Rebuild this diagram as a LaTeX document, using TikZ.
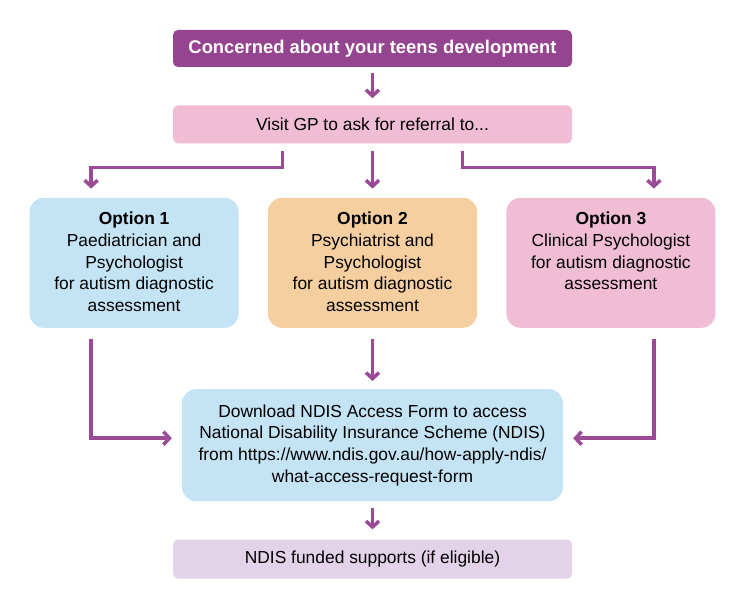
\documentclass[tikz,border=0pt]{standalone}
\usepackage{fontspec}
\setmainfont{Liberation Sans}
\usetikzlibrary{arrows.meta,positioning}
\definecolor{plum}{HTML}{95448F}
\definecolor{arrowc}{HTML}{9B4A96}
\definecolor{gppink}{HTML}{F0BDD5}
\definecolor{optblue}{HTML}{C4E4F6}
\definecolor{peach}{HTML}{F5CF9F}
\definecolor{lavender}{HTML}{E3D3E9}
\newcommand\optiontext[2]{\parbox[c][130pt][t]{205pt}{\centering\vspace*{14pt}\textbf{Option #1}\\#2}}
\begin{document}
\begin{tikzpicture}[x=1pt,y=-1pt,
  box/.style={inner sep=0pt, align=center, font=\fontsize{17.4}{21.8}\selectfont},
  bar/.style={box, minimum width=399pt, minimum height=38pt, rounded corners=5pt},
  optbox/.style={box, minimum width=209pt, minimum height=130pt, rounded corners=14pt},
  flow/.style={draw=arrowc, line width=3.5pt, line join=miter,
    -{Straight Barb[length=6pt,width=13pt]}}]
  \useasboundingbox (0,0) rectangle (750,607);
  % boxes
  \node[bar, fill=plum, text=white, minimum height=37pt,
    font=\fontsize{18.4}{22}\selectfont\bfseries] (title) at (372.5,48.5)
    {Concerned about your teens development};
  \node[bar, fill=gppink, below=38pt of title] (visit) {Visit GP to ask for referral to...};
  \node[optbox, fill=peach, below=54pt of visit] (opt2)
    {\optiontext{2}{Psychiatrist and\\Psychologist\\for autism diagnostic\\assessment}};
  \node[optbox, fill=optblue, left=29pt of opt2] (opt1)
    {\optiontext{1}{Paediatrician and\\Psychologist\\for autism diagnostic\\assessment}};
  \node[optbox, fill=gppink, right=29pt of opt2] (opt3)
    {\optiontext{3}{Clinical Psychologist\\for autism diagnostic\\assessment}};
  \node[box, fill=optblue, minimum width=381pt, minimum height=112pt,
    rounded corners=14pt, below=61pt of opt2] (ndis)
    {Download NDIS Access Form to access\\National Disability Insurance Scheme (NDIS)\\from https://www.ndis.gov.au/how-apply-ndis/\\what-access-request-form};
  \node[bar, fill=lavender, minimum height=39pt, below=38pt of ndis] (funded)
    {NDIS funded supports (if eligible)};
  % arrows
  \draw[flow, shorten <=6pt, shorten >=7pt] (title) -- (visit);
  \draw[flow, shorten <=7pt, shorten >=9pt] ([xshift=-90pt]visit.south) -- ++(0,24)
    -| ([xshift=-43pt]opt1.north);
  \draw[flow, shorten <=7pt, shorten >=9pt] (visit) -- (opt2);
  \draw[flow, shorten <=7pt, shorten >=9pt] ([xshift=90pt]visit.south) -- ++(0,24)
    -| ([xshift=43pt]opt3.north);
  \draw[flow, shorten <=11pt, shorten >=10pt] ([xshift=-43pt]opt1.south)
    |- ([yshift=7pt]ndis.west);
  \draw[flow, shorten <=11pt, shorten >=8pt] (opt2) -- (ndis);
  \draw[flow, shorten <=11pt, shorten >=10pt] ([xshift=43pt]opt3.south)
    |- ([yshift=7pt]ndis.east);
  \draw[flow, shorten <=7pt, shorten >=10pt] (ndis) -- (funded);
\end{tikzpicture}
\end{document}
